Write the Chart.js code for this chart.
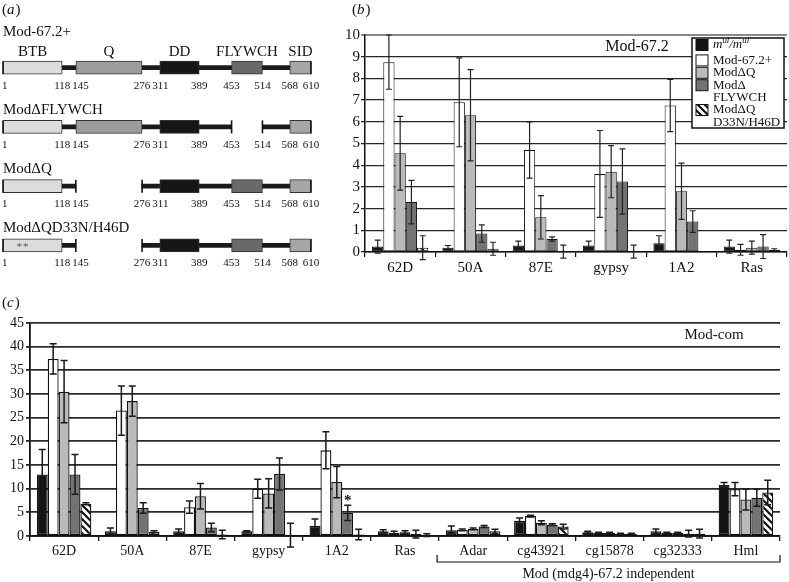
<!DOCTYPE html>
<html>
<head>
<meta charset="utf-8">
<script src="https://cdn.jsdelivr.net/npm/chart.js@4.4.1/dist/chart.umd.min.js"></script>
<style>
html, body { margin: 0; padding: 0; background: #fff; }
#wrap { position: relative; width: 789px; height: 582px; overflow: hidden; }
canvas { position: absolute; }
</style>
</head>
<body>
<div id="wrap">
  <canvas id="chartA" width="340" height="280" style="left:0;top:0"></canvas>
  <canvas id="chartB" width="469" height="280" style="left:320px;top:0"></canvas>
  <canvas id="chartC" width="789" height="292" style="left:0;top:290px"></canvas>
</div>
<script>
// ---- (a) construct diagram: residue spans per row ----
const rowNames = ['Mod-67.2+', 'ModΔFLYWCH', 'ModΔQ', 'ModΔQD33N/H46D'];
const domainNames = ['BTB', 'Q', 'DD', 'FLYWCH', 'SID'];
const btb = [[1, 118], [1, 118], [1, 118], [1, 118]];
const polyQ = [[145, 276], [145, 276], null, null];
const dd = [[311, 389], [311, 389], [311, 389], [311, 389]];
const flywch = [[453, 514], null, [453, 514], [453, 514]];
const sid = [[568, 610], [568, 610], [568, 610], [568, 610]];
const backbone1 = [[1, 610], [1, 453], [1, 145], [1, 145]];
const backbone2 = [null, [514, 610], [276, 610], [276, 610]];
const boundaryTicks = [1, 118, 145, 276, 311, 389, 453, 514, 568, 610];
const mutationSites = [null, null, null, [33, 46]];

// ---- series shared by (b) and (c) ----
const seriesNames = ['m^{ul}/m^{ul}', 'Mod-67.2+', 'ModΔQ', 'ModΔ\nFLYWCH', 'ModΔQ\nD33N/H46D'];

// ---- (b) Mod-67.2 ----
const bCategories = ['62D', '50A', '87E', 'gypsy', '1A2', 'Ras'];
const bMutant = [0.25, 0.2, 0.3, 0.3, 0.4, 0.25];
const bMutantErr = [0.3, 0.1, 0.2, 0.2, 0.35, 0.3];
const bWild = [8.75, 6.9, 4.7, 3.6, 6.75, 0.1];
const bWildErr = [1.25, 2.05, 1.3, 2.0, 1.2, 0.25];
const bDeltaQ = [4.55, 6.3, 1.6, 3.7, 2.8, 0.2];
const bDeltaQErr = [1.7, 2.1, 1.0, 1.2, 1.3, 0.3];
const bDeltaFly = [2.3, 0.85, 0.6, 3.25, 1.4, 0.25];
const bDeltaFlyErr = [1.0, 0.4, 0.1, 1.5, 0.5, 0.55];
const bDeltaQMut = [0.2, 0.15, 0.02, 0.02, 0.05, 0.1];
const bDeltaQMutErr = [0.55, 0.3, 0.3, 0.3, 0, 0.05];
const bTicks = [0, 1, 2, 3, 4, 5, 6, 7, 8, 9, 10];

// ---- (c) Mod-com ----
const cCategories = ['62D', '50A', '87E', 'gypsy', '1A2', 'Ras', 'Adar', 'cg43921', 'cg15878', 'cg32333', 'Hml'];
const cMutant = [13, 1.0, 1.0, 1.0, 2.1, 1.0, 1.2, 3.2, 0.8, 1.0, 10.8];
const cMutantErr = [5.3, 0.7, 0.5, 0.1, 1.5, 0.3, 0.9, 0.6, 0.2, 0.5, 0.5];
const cWild = [37.4, 26.5, 6.1, 10, 18.1, 0.7, 1.3, 4.2, 0.7, 0.7, 9.9];
const cWildErr = [3.2, 5.2, 1.3, 2.0, 3.9, 0.3, 0.2, 0.2, 0.1, 0.1, 1.4];
const cDeltaQ = [30.5, 28.5, 8.4, 9.0, 11.4, 0.8, 1.5, 2.8, 0.7, 0.7, 7.7];
const cDeltaQErr = [6.6, 3.2, 2.7, 3.1, 3.3, 0.3, 0.2, 0.4, 0.1, 0.1, 2.2];
const cDeltaFly = [13, 5.9, 1.8, 13.1, 4.9, 0.4, 2.0, 2.4, 0.5, 0.5, 8.1];
const cDeltaFlyErr = [4.2, 1.1, 0.9, 3.4, 1.6, 0.8, 0.2, 0.2, 0.1, 0.7, 1.8];
const cDeltaQMut = [6.8, 0.9, 0.3, 0.2, 0.3, 0.2, 1.0, 2.0, 0.5, 0.5, 9.2];
const cDeltaQMutErr = [0.2, 0.2, 0.9, 2.5, 1.1, 0.3, 0.4, 0.5, 0.1, 0.9, 2.6];
const cTicks = [0, 5, 10, 15, 20, 25, 30, 35, 40, 45];
const cIndependent = ['Adar', 'cg43921', 'cg15878', 'cg32333', 'Hml'];
const cIndependentLabel = 'Mod (mdg4)-67.2 independent';
const cStars = [{ category: '1A2', series: 3 }];

const SERIF = '"Liberation Serif", "Times New Roman", serif';
Chart.defaults.font.family = SERIF;
Chart.defaults.font.size = 14;
Chart.defaults.color = '#111';
Chart.defaults.animation = false;
Chart.defaults.plugins.legend.display = false;
Chart.defaults.plugins.tooltip.enabled = false;

function makeHatch() {
  const c = document.createElement('canvas');
  c.width = 7; c.height = 7;
  const g = c.getContext('2d');
  g.fillStyle = '#fff';
  g.fillRect(0, 0, 7, 7);
  g.strokeStyle = '#111';
  g.lineWidth = 2.2;
  g.beginPath();
  g.moveTo(-1, -1); g.lineTo(8, 8);
  g.moveTo(-4.5, 2.5); g.lineTo(4.5, 11.5);
  g.moveTo(2.5, -4.5); g.lineTo(11.5, 4.5);
  g.stroke();
  return g.createPattern(c, 'repeat');
}
const seriesFills = ['#141414', '#ffffff', '#bababa', '#737373', makeHatch()];

// text with ^{superscript} parts
function drawRich(ctx, text, x, y, size, italic) {
  let cx = x;
  text.split(/(\^\{[^}]*\})/).forEach(p => {
    if (!p) return;
    const sup = p.startsWith('^{');
    const t = sup ? p.slice(2, -1) : p;
    const s = sup ? size * 0.68 : size;
    ctx.font = (italic ? 'italic ' : '') + s + 'px ' + SERIF;
    ctx.fillText(t, cx, sup ? y - size * 0.33 : y);
    cx += ctx.measureText(t).width;
  });
}

function panelLetter(ctx, letter, x, y) {
  ctx.save();
  ctx.fillStyle = '#111';
  ctx.textAlign = 'left';
  ctx.textBaseline = 'middle';
  ctx.font = '15px ' + SERIF;
  ctx.fillText('(', x, y);
  let cx = x + ctx.measureText('(').width;
  ctx.font = 'italic 15px ' + SERIF;
  ctx.fillText(letter, cx, y);
  cx += ctx.measureText(letter).width + 1;
  ctx.font = '15px ' + SERIF;
  ctx.fillText(')', cx, y);
  ctx.restore();
}

const errorBars = {
  id: 'errorBars',
  afterDatasetsDraw(chart, args, opts) {
    const { ctx } = chart;
    const y = chart.scales.y;
    ctx.save();
    ctx.strokeStyle = opts.color || '#222';
    ctx.lineWidth = opts.width || 1.3;
    const cap = opts.cap || 6;
    chart.data.datasets.forEach((ds, i) => {
      if (!ds.errors) return;
      chart.getDatasetMeta(i).data.forEach((bar, j) => {
        const v = ds.data[j], e = ds.errors[j];
        if (v == null || !e) return;
        const top = y.getPixelForValue(v + e);
        const bot = y.getPixelForValue(v - e);
        ctx.beginPath();
        ctx.moveTo(bar.x, top); ctx.lineTo(bar.x, bot);
        ctx.moveTo(bar.x - cap / 2, top); ctx.lineTo(bar.x + cap / 2, top);
        ctx.moveTo(bar.x - cap / 2, bot); ctx.lineTo(bar.x + cap / 2, bot);
        ctx.stroke();
      });
    });
    ctx.restore();
  }
};

function seriesDatasets(values, errors, borderWidth) {
  return values.map((vals, k) => ({
    label: seriesNames[k],
    data: vals,
    errors: errors[k],
    backgroundColor: seriesFills[k],
    borderColor: '#111',
    borderWidth: borderWidth,
    borderSkipped: false,
    categoryPercentage: 0.8,
    barPercentage: 1
  }));
}

// ---------------- (a) ----------------
const diagramText = {
  id: 'diagramText',
  afterDatasetsDraw(chart) {
    const { ctx } = chart;
    const x = chart.scales.x, y = chart.scales.y;
    ctx.save();
    ctx.fillStyle = '#111';
    ctx.strokeStyle = '#111';
    ctx.textBaseline = 'middle';
    rowNames.forEach((name, r) => {
      const cy = y.getPixelForValue(r);
      ctx.font = '15px ' + SERIF;
      ctx.textAlign = 'left';
      ctx.fillText(name, 3, cy - (r === 0 ? 36 : 17));
      // segment end ticks
      ctx.lineWidth = 1.6;
      [backbone1, backbone2].forEach(seg => {
        const s = seg[r];
        if (!s) return;
        s.forEach(p => {
          const px = x.getPixelForValue(p);
          ctx.beginPath();
          ctx.moveTo(px, cy - 6.5); ctx.lineTo(px, cy + 6.5);
          ctx.stroke();
        });
      });
      // residue numbers, nudged apart where they would collide
      ctx.font = '11px ' + SERIF;
      ctx.textAlign = 'left';
      let prevRight = 0;
      boundaryTicks.forEach(t => {
        const w = ctx.measureText(String(t)).width;
        let left = Math.max(1, x.getPixelForValue(t) - w / 2);
        if (left < prevRight + 2) left = prevRight + 2;
        ctx.fillText(String(t), left, cy + 18);
        prevRight = left + w;
      });
      // point mutations
      if (mutationSites[r]) {
        ctx.font = '11px ' + SERIF;
        ctx.textAlign = 'center';
        ctx.fillStyle = '#555';
        mutationSites[r].forEach(m => ctx.fillText('*', x.getPixelForValue(m), cy + 2));
        ctx.fillStyle = '#111';
      }
    });
    // domain names above first row
    const cy0 = y.getPixelForValue(0);
    ctx.font = '15px ' + SERIF;
    ctx.textAlign = 'center';
    [btb, polyQ, dd, flywch, sid].forEach((d, k) => {
      const span = d[0];
      ctx.fillText(domainNames[k], (x.getPixelForValue(span[0]) + x.getPixelForValue(span[1])) / 2, cy0 - 16);
    });
    ctx.restore();
    panelLetter(ctx, 'a', 2, 10);
  }
};

const domainFills = ['#dcdcdc', '#9c9c9c', '#161616', '#696969', '#a6a6a6'];
new Chart(document.getElementById('chartA'), {
  type: 'bar',
  data: {
    labels: rowNames,
    datasets: [
      { data: backbone1, backgroundColor: '#1a1a1a', barThickness: 4, grouped: false, order: 2 },
      { data: backbone2, backgroundColor: '#1a1a1a', barThickness: 4, grouped: false, order: 2 }
    ].concat([btb, polyQ, dd, flywch, sid].map((d, k) => ({
      label: domainNames[k],
      data: d,
      backgroundColor: domainFills[k],
      borderColor: '#333',
      borderWidth: 1,
      borderSkipped: false,
      barThickness: 13,
      grouped: false,
      order: 1
    })))
  },
  options: {
    indexAxis: 'y',
    responsive: false,
    layout: { padding: { left: 3, right: 29, top: 38, bottom: 5 } },
    scales: {
      x: { type: 'linear', min: 1, max: 610, display: false },
      y: { type: 'category', display: false }
    }
  },
  plugins: [diagramText]
});

// ---------------- (b) ----------------
const panelB = {
  id: 'panelB',
  afterDraw(chart) {
    const { ctx, chartArea: a } = chart;
    ctx.save();
    ctx.fillStyle = '#111';
    ctx.textBaseline = 'middle';
    ctx.font = '16px ' + SERIF;
    ctx.textAlign = 'center';
    ctx.fillText('Mod-67.2', a.right - 150, a.top + 12);
    // legend box
    const bx = a.right - 95, by = a.top + 3, bw = 92, bh = 90;
    ctx.fillStyle = '#fff';
    ctx.fillRect(bx, by, bw, bh);
    ctx.strokeStyle = '#111';
    ctx.lineWidth = 1.5;
    ctx.strokeRect(bx, by, bw, bh);
    let ly = by + 7;
    ctx.textAlign = 'left';
    chart.data.datasets.forEach((ds, k) => {
      ctx.fillStyle = ds.backgroundColor;
      ctx.fillRect(bx + 4, ly - 5.5, 12, 11);
      ctx.lineWidth = 1;
      ctx.strokeRect(bx + 4, ly - 5.5, 12, 11);
      ctx.fillStyle = '#111';
      const lines = ds.label.split('\n');
      const italic = ds.label.includes('^{');
      lines.forEach(line => {
        drawRich(ctx, line, bx + 21, ly, 13, italic);
        ly += 12.4;
      });
      if (italic) ly += 3;
    });
    ctx.restore();
    panelLetter(ctx, 'b', 32, 10);
  }
};

new Chart(document.getElementById('chartB'), {
  type: 'bar',
  data: {
    labels: bCategories,
    datasets: seriesDatasets(
      [bMutant, bWild, bDeltaQ, bDeltaFly, bDeltaQMut],
      [bMutantErr, bWildErr, bDeltaQErr, bDeltaFlyErr, bDeltaQMutErr], 1)
  },
  options: {
    responsive: false,
    layout: { padding: { left: 0, right: 2, top: 35, bottom: 0 } },
    plugins: { errorBars: { color: '#222', width: 1.2, cap: 6 } },
    scales: {
      x: {
        grid: { drawOnChartArea: false, tickLength: 5, color: '#111', lineWidth: 1.2 },
        border: { color: '#111', width: 1.5 },
        ticks: { font: { size: 15 }, padding: 2 },
        afterFit: s => { s.height = 28; }
      },
      y: {
        min: 0, max: 10,
        afterBuildTicks: s => { s.ticks = bTicks.map(v => ({ value: v })); },
        grid: {
          color: c => (c.tick && c.tick.value === 10 ? '#8a8a8a' : '#262626'),
          lineWidth: c => (c.tick && c.tick.value === 10 ? 2 : 1.3),
          tickLength: 4
        },
        border: { color: '#111', width: 1.5 },
        ticks: { font: { size: 15 }, padding: 1 },
        afterFit: s => { s.width = 45; }
      }
    }
  },
  plugins: [errorBars, panelB]
});

// ---------------- (c) ----------------
const panelC = {
  id: 'panelC',
  afterDraw(chart) {
    const { ctx, chartArea: a } = chart;
    const x = chart.scales.x, y = chart.scales.y;
    ctx.save();
    ctx.fillStyle = '#111';
    ctx.strokeStyle = '#111';
    ctx.textBaseline = 'middle';
    ctx.textAlign = 'center';
    ctx.font = '15px ' + SERIF;
    ctx.fillText('Mod-com', a.right - 66, a.top + 12);
    // bracket under independent genes
    const step = (a.right - a.left) / cCategories.length;
    const i0 = cCategories.indexOf(cIndependent[0]);
    const i1 = cCategories.indexOf(cIndependent[cIndependent.length - 1]);
    const x0 = a.left + i0 * step - 2, x1 = a.left + (i1 + 1) * step;
    const by = a.bottom + 26;
    ctx.lineWidth = 1.2;
    ctx.beginPath();
    ctx.moveTo(x0, by - 7); ctx.lineTo(x0, by); ctx.lineTo(x1, by); ctx.lineTo(x1, by - 7);
    ctx.stroke();
    ctx.font = '14px ' + SERIF;
    ctx.fillText(cIndependentLabel, (x0 + x1) / 2, by + 12);
    // significance stars
    ctx.font = 'bold 15px ' + SERIF;
    cStars.forEach(s => {
      const j = cCategories.indexOf(s.category);
      const ds = chart.data.datasets[s.series];
      const bar = chart.getDatasetMeta(s.series).data[j];
      const top = y.getPixelForValue(ds.data[j] + ds.errors[j]);
      ctx.fillText('*', bar.x, top - 4);
    });
    ctx.restore();
    panelLetter(ctx, 'c', 2, 13);
  }
};

new Chart(document.getElementById('chartC'), {
  type: 'bar',
  data: {
    labels: cCategories,
    datasets: seriesDatasets(
      [cMutant, cWild, cDeltaQ, cDeltaFly, cDeltaQMut],
      [cMutantErr, cWildErr, cDeltaQErr, cDeltaFlyErr, cDeltaQMutErr], 1.3)
  },
  options: {
    responsive: false,
    layout: { padding: { left: 0, right: 9, top: 33, bottom: 0 } },
    plugins: { errorBars: { color: '#1a1a1a', width: 1.5, cap: 7 } },
    scales: {
      x: {
        grid: { drawOnChartArea: false, tickLength: 5, color: '#111', lineWidth: 1.3 },
        border: { color: '#111', width: 1.8 },
        ticks: { font: { size: 14 }, padding: 2 },
        afterFit: s => { s.height = 46; }
      },
      y: {
        min: 0, max: 45,
        afterBuildTicks: s => { s.ticks = cTicks.map(v => ({ value: v })); },
        grid: { color: '#2a2a2a', lineWidth: 1.8, tickLength: 4 },
        border: { color: '#111', width: 1.8 },
        ticks: { font: { size: 14 }, padding: 2 },
        afterFit: s => { s.width = 30; }
      }
    }
  },
  plugins: [errorBars, panelC]
});
</script>
</body>
</html>
